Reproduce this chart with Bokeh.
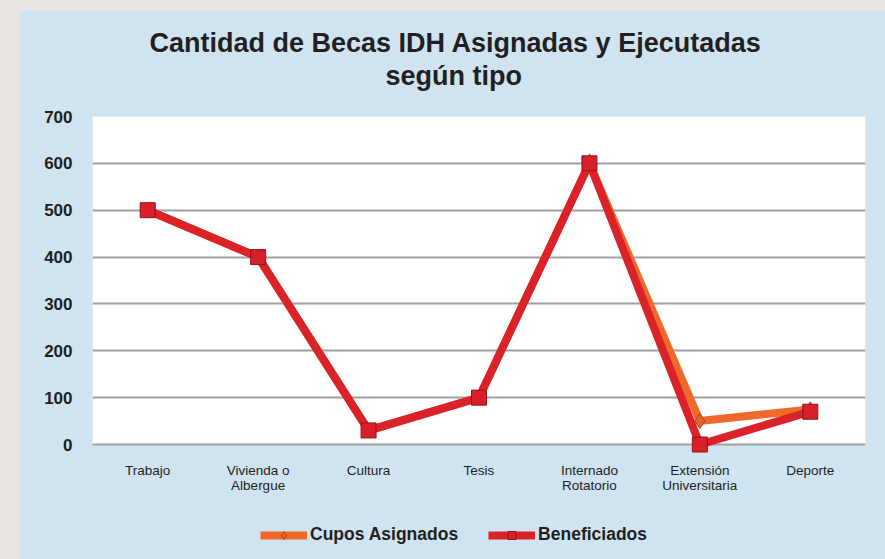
from bokeh.plotting import figure
from bokeh.models import (FactorRange, Range1d, Title, Legend, LegendItem, FixedTicker,
                          BoxAnnotation)
from bokeh.layouts import column
from bokeh.embed import file_html
from bokeh.resources import INLINE

categories = ["Trabajo", "Vivienda o\nAlbergue", "Cultura", "Tesis",
              "Internado\nRotatorio", "Extensión\nUniversitaria", "Deporte"]
cupos_asignados = [500, 400, 30, 100, 600, 50, 75]
beneficiados = [500, 400, 30, 100, 600, 0, 70]
y_ticks = [0, 100, 200, 300, 400, 500, 600, 700]

TXT = "#231f20"
BLUE = "#cfe3f1"
ORANGE = "#f0692a"
RED = "#da2229"

Y_MAX = 700
# frame extends below the value axis to hold the legend (blue area)
Y_MIN = -(559 - 444) * Y_MAX / 328.0

p = figure(frame_width=773, frame_height=443, x_range=FactorRange(factors=categories),
           y_range=Range1d(Y_MIN, Y_MAX), output_backend="svg", toolbar_location=None,
           min_border_left=73, min_border_right=20, min_border_top=106, min_border_bottom=0)
p.border_fill_color = BLUE
p.background_fill_color = BLUE
p.outline_line_color = None
p.x_range.range_padding = 0
p.margin = (18, 0, 0, 27)

p.add_layout(BoxAnnotation(bottom=0, top=Y_MAX, fill_color="white", fill_alpha=1.0,
                           line_color=None, level="image"))

p.yaxis.ticker = FixedTicker(ticks=y_ticks)
p.ygrid.ticker = FixedTicker(ticks=y_ticks)
p.yaxis.axis_line_color = None
p.yaxis.major_tick_line_color = None
p.yaxis.minor_tick_line_color = None
p.yaxis.major_tick_out = 0
p.yaxis.major_tick_in = 0
p.yaxis.major_label_standoff = 20
p.yaxis.major_label_text_font = "Liberation Sans"
p.yaxis.major_label_text_font_style = "bold"
p.yaxis.major_label_text_font_size = "17px"
p.yaxis.major_label_text_color = TXT

p.xaxis.fixed_location = 0
p.xaxis.axis_line_color = None
p.xaxis.major_tick_line_color = None
p.xaxis.major_tick_out = 0
p.xaxis.major_tick_in = 0
p.xaxis.major_label_standoff = 18
p.xaxis.major_label_text_font = "Liberation Sans"
p.xaxis.major_label_text_font_size = "13.5px"
p.xaxis.major_label_text_color = TXT
p.xaxis.major_label_text_line_height = 1.0

p.xgrid.grid_line_color = None
p.ygrid.grid_line_color = "#a0a0a0"
p.ygrid.grid_line_width = 2

l1 = p.line(categories, cupos_asignados, line_color=ORANGE, line_width=8, line_join="miter")
m1 = p.scatter(categories, cupos_asignados, marker="diamond", size=15,
               fill_color="#e4652b", line_color="#a9461c", line_width=1)
l2 = p.line(categories, beneficiados, line_color=RED, line_width=8, line_join="miter")
m2 = p.scatter(categories, beneficiados, marker="square", size=15,
               fill_color="#d81f2a", line_color="#8e1419", line_width=1)

legend = Legend(items=[LegendItem(label="Cupos Asignados", renderers=[l1, m1]),
                       LegendItem(label="Beneficiados", renderers=[l2, m2])],
                orientation="horizontal", location=(168, 14),
                background_fill_alpha=0, border_line_color=None,
                padding=0, margin=0, spacing=30, glyph_width=47, glyph_height=20,
                label_height=20, label_standoff=3,
                label_text_font="Liberation Sans", label_text_font_style="bold",
                label_text_font_size="17.5px", label_text_color=TXT)
p.add_layout(legend, "center")

t2 = Title(text="según tipo", align="left", offset=293, standoff=52,
           text_font="Liberation Sans", text_font_style="bold",
           text_font_size="27px", text_color=TXT)
t1 = Title(text="Cantidad de Becas IDH Asignadas y Ejecutadas", align="left", offset=57,
           standoff=-50, text_font="Liberation Sans", text_font_style="bold",
           text_font_size="27px", text_color=TXT)
p.add_layout(t2, "above")
p.add_layout(t1, "above")

page = column(p, styles={"margin": "-8px 0 0 -8px", "background-color": "#e9e5e3"})

open("out.html", "w").write(file_html(page, INLINE))
